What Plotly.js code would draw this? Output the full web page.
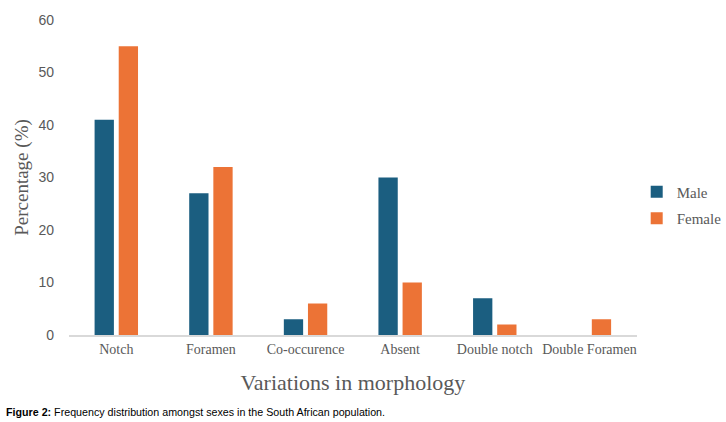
<!DOCTYPE html>
<html>
<head>
<meta charset="utf-8">
<script src="https://cdn.plot.ly/plotly-3.0.1.min.js"></script>
<style>
  body { margin: 0; background: #fff; }
  #chart { width: 726px; height: 422px; }
</style>
</head>
<body>
<div id="chart"></div>
<script>
// Morphology variation categories and percentages per sex
let categories = ['Notch', 'Foramen', 'Co-occurence', 'Absent', 'Double notch', 'Double Foramen'];
let maleValues = [41, 27, 3, 30, 7, 0];
let femaleValues = [55, 32, 6, 10, 2, 3];
let yTicks = [0, 10, 20, 30, 40, 50, 60];

let serif = '"Liberation Serif", "Times New Roman", serif';
let sans = '"Liberation Sans", Arial, sans-serif';

let traces = [
    {
        type: 'bar',
        name: 'Male',
        legendgroup: 'male',
        x: categories,
        y: maleValues,
        marker: { color: '#1B5E80' },
        hoverinfo: 'x+y'
    },
    {
        type: 'bar',
        name: 'Female',
        legendgroup: 'female',
        x: categories,
        y: femaleValues,
        marker: { color: '#EC7336' },
        hoverinfo: 'x+y'
    }
];

let layout = {
    width: 726,
    height: 422,
    barmode: 'group',
    bargap: 0.49,
    bargroupgap: 0.2,
    paper_bgcolor: '#fff',
    plot_bgcolor: '#fff',
    margin: { t: 20, r: 86, b: 87, l: 69 },
    showlegend: true,
    legend: {
        xref: 'container',
        x: 0.877,
        y: 0.413,
        xanchor: 'left',
        yanchor: 'middle',
        font: { family: serif, size: 15, color: '#595959' },
        tracegroupgap: 4,
        itemwidth: 30
    },
    xaxis: {
        showline: true,
        linecolor: '#d9d9d9',
        linewidth: 1.5,
        ticks: '',
        tickfont: { family: serif, size: 14, color: '#595959' },
        title: {
            text: 'Variations in morphology',
            font: { family: serif, size: 22, color: '#595959' },
            standoff: 19
        }
    },
    yaxis: {
        range: [0, 60],
        tickvals: yTicks,
        showgrid: false,
        zeroline: false,
        showline: false,
        ticks: '',
        ticklabelstandoff: 14,
        tickfont: { family: sans, size: 14, color: '#595959' },
        title: {
            text: 'Percentage (%)',
            font: { family: serif, size: 19, color: '#595959' },
            standoff: 4
        }
    },
    annotations: [
        {
            xref: 'paper', yref: 'paper',
            x: -0.115, y: -0.245,
            xanchor: 'left', yanchor: 'middle',
            showarrow: false,
            align: 'left',
            text: '<b>Figure 2:</b> Frequency distribution amongst sexes in the South African population.',
            font: { family: sans, size: 10.7, color: '#000' }
        }
    ]
};

Plotly.newPlot('chart', traces, layout, { displayModeBar: false });
</script>
</body>
</html>
